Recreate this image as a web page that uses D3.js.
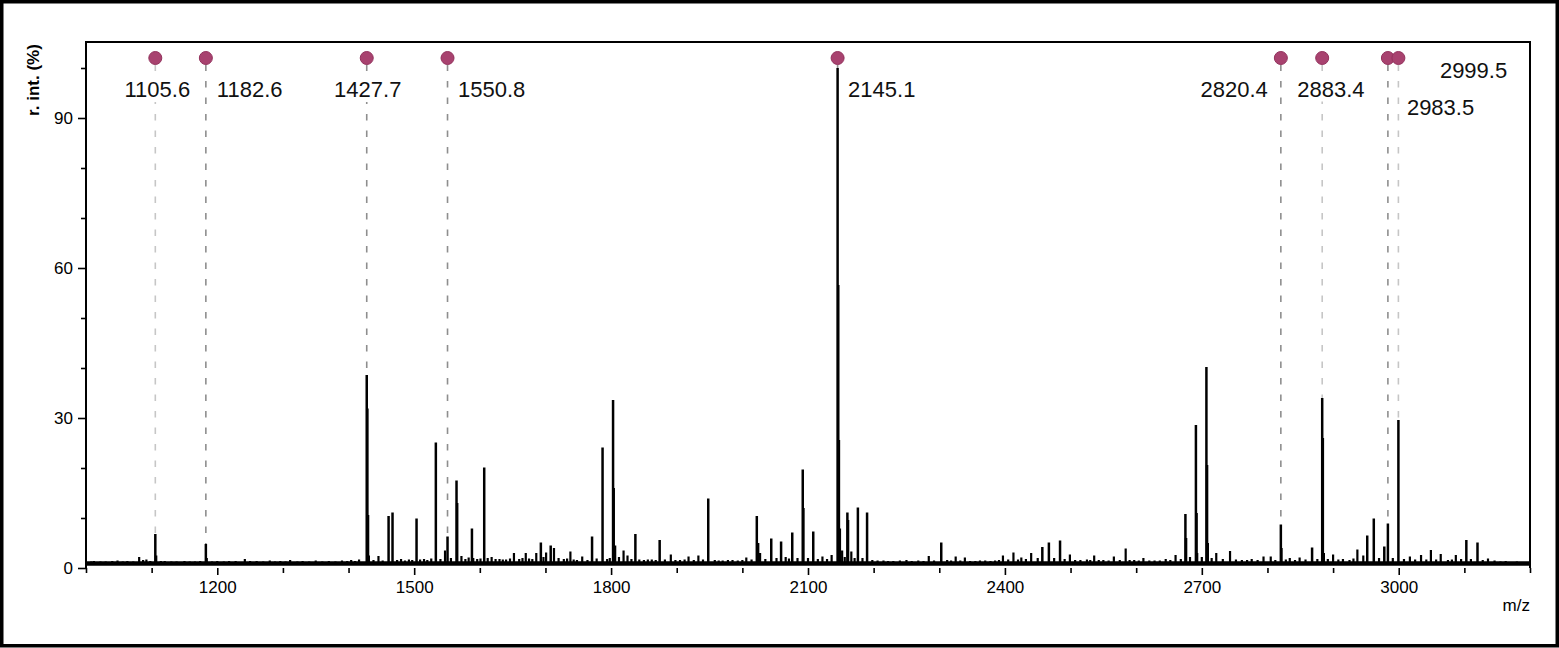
<!DOCTYPE html>
<html><head><meta charset="utf-8">
<script src="https://cdn.jsdelivr.net/npm/d3@7"></script>
<style>
html,body{margin:0;padding:0;background:#fff;}
svg{display:block;font-family:"Liberation Sans",Arial,Helvetica,sans-serif;}
</style></head><body>
<svg id="chart" width="1559" height="648"></svg>
<script>
// ---------- DATA ----------
const peakMz = [
 1008,1012,1022,1030,1040,1048,1056,1063,1072,1081,1087,1092,1098,1105.6,1107,1114,1120,1130,1138,1150,1158,1166,1174,1182.6,1184,1192,1200,1210,1218,1228,1242,1250,1260,1270,1280,1288,1296,1304,1311,1322,1330,1340,1350,1360,1370,1380,1390,1398,1404,1410,1416,
 1427.7,1428.7,1429.7,1431,1438,1445.6,1452,1461,1467,1474,1480,1486,1492,1497,1503.6,1509,1515,1520,1526,1533,1540,1547,1550.8,1556,1564.5,1565.5,1572,1578,1583,1588,1590,1596,1601,1606.7,1612,1618,1624,1630,1635,1640,1646,
 1652,1660,1665,1670,1675,1680,1686,1693,1697,1701,1708,1713,1720,1728,1733,1738,1743,1748,1756,1764,1771,1778,1787,1794,1798,1803,1804,1806,1812,1819,1825,1831,1837,1843,1850,1856,1862,1868,1874,1882,
 1891,1898,1905,1912,1918,1926,1933,1940,1948,1958,1964,1970,1978,1985,1993,2000,2006,2014,2022,2024,2027,2035,2044,2052,2059,2066,2071,2076,2084,2092,2093,2100,2108,2115,2122,2129,2136,
 2145.1,2146.1,2147.1,2148.5,2152,2156,2160,2161,2166,2171,2176,2183,2190,2198,2206,2215,2222,2230,2240,2250,2258,2268,2276,2284,2292,2303,2312,2318,2325,2332,2339,2347,2355,2362,2370,2378,2385,2391,2397,2405,2413,2420,2425,2432,
 2440,2450,2457,2467,2475,2484,2491,2499,2507,2515,2525,2530,2536,2543,2550,2558,2566,2575,2584,2590,2597,2604,2611,2620,2628,2636,2645,2652,2660,2668,2675,2676,2682,2691,2692,2693,2700,2707,2708,2709,2715,2722,2732,2743,2752,2761,2769,
 2776,2785,2794,2805,2812,2820.4,2821.5,2828,2834,2842,2849,2858,2868,2876,2883.4,2884.4,2886,2892,2900,2908,2915,2925,2931,2937,2946,2952,2962,2970,2978,2983.5,2991,2999.5,3008,3017,3025,3034,3042,3049,
 3057,3064,3075,3081,3087,3095,3103,3110,3120,3128,3136,3146,3155,3163,3170,3180,3190
];
const peakIntensity = [
 1.3,1.4,1.3,1.3,1.4,1.5,1.3,1.4,1.3,2.2,1.6,1.7,1.4,6.8,2.5,1.4,1.4,1.3,1.3,1.4,1.3,1.3,1.4,4.8,2.0,1.3,1.4,1.3,1.4,1.4,1.8,1.4,1.4,1.3,1.5,1.3,1.4,1.3,1.6,1.3,1.4,1.3,1.5,1.3,1.4,1.3,1.5,1.4,1.6,1.4,1.7,
 38.6,31.9,10.6,2.5,1.6,2.4,1.5,10.4,11.1,1.6,1.8,1.5,1.7,1.6,9.9,1.7,1.8,1.6,1.9,25.1,1.8,3.5,6.3,2.0,17.5,13,2.4,1.8,2.1,7.9,2.0,1.8,1.9,20.1,2.0,2.2,1.8,1.8,1.7,1.7,1.9,
 3.0,1.8,2.0,3.0,1.9,1.8,3.0,5.1,2.2,3.1,4.5,4.0,2.0,1.8,1.9,3.3,1.7,1.6,2.3,1.6,6.3,1.9,24.1,1.8,2.0,33.6,16,4.5,2.2,3.5,2.5,1.8,6.8,1.7,1.6,1.7,1.7,1.6,5.6,1.7,
 2.7,1.6,1.6,1.7,2.3,1.6,2.5,1.7,13.9,1.6,1.5,1.5,1.6,1.6,1.5,1.6,2.1,1.7,10.4,5,3.0,1.8,5.9,2.0,5.3,2.2,1.9,7.1,2.0,19.7,12,2.0,7.3,1.8,2.3,1.8,2.6,
 100,56.6,25.6,7.9,3.5,2.2,11.1,9.6,3.3,2.0,12.1,2.0,11.1,1.6,1.5,1.5,1.4,1.4,1.5,1.6,1.4,1.5,1.4,2.4,1.5,5.1,1.6,1.5,2.3,1.5,2.1,1.4,1.4,1.5,1.5,1.4,1.5,1.6,2.5,1.7,3.1,1.7,2.1,1.8,
 3.0,2.0,4.2,5.1,2.0,5.5,1.8,2.7,1.6,1.6,1.7,1.6,2.5,1.6,1.6,1.5,2.3,1.6,3.9,1.6,1.6,1.5,2.0,1.5,1.5,1.5,1.8,1.6,2.6,1.8,10.8,6,2.2,28.6,11,3,2.2,40.2,20.6,5,2.0,3.0,1.8,3.4,1.7,1.6,1.6,
 1.8,1.6,2.3,2.3,1.6,8.7,4,1.7,2.0,1.6,2.1,1.7,4.1,1.8,34,26,3,1.8,2.7,1.7,1.8,1.6,1.9,3.7,2.5,6.5,9.9,2.0,4.3,8.9,2.0,29.6,1.8,2.3,1.7,2.6,1.7,3.6,
 1.7,2.8,1.6,1.7,2.6,1.8,5.6,1.8,5.1,1.6,1.9,1.5,1.3,1.4,1.2,1.3,1.2
];
const baselineLevel = 0.9;

const annotMz = [1105.6,1182.6,1427.7,1550.8,2145.1,2820.4,2883.4,2983.5,2999.5];
const annotLabels = ["1105.6","1182.6","1427.7","1550.8","2145.1","2820.4","2883.4","2983.5","2999.5"];
const annotIntensity = [6.8,4.8,38.6,6.3,100,8.7,34,8.9,29.6];
const annotShade = ["light","dark","dark","dark","dark","dark","light","dark","light"];

const xDomain = [1000,3200];
const yDomain = [0,105.2];
const xTicks = d3.range(1000,3201,100);
const xTickLabels = [1200,1500,1800,2100,2400,2700,3000];
const yTicks = d3.range(0,101,10);
const yTickLabels = [0,30,60,90];
const xTitle = "m/z";
const yTitle = "r. int. (%)";

// ---------- LAYOUT ----------
const W = 1559, H = 648;
const plot = {left:86, top:42, right:1530, bottom:568};
const labelPlacement = [
 {dx:2, dy:39, anchor:"middle"},
 {dx:11, dy:39, anchor:"start"},
 {dx:1, dy:39, anchor:"middle"},
 {dx:10.5, dy:39, anchor:"start"},
 {dx:10.5, dy:39, anchor:"start"},
 {dx:-13, dy:39, anchor:"end"},
 {dx:-25, dy:38.5, anchor:"start"},
 {dx:19, dy:57, anchor:"start"},
 {dx:41.5, dy:20, anchor:"start"}
];
const dotY = plot.top + 16, dotR = 6.5;

const svg = d3.select("#chart");
svg.append("rect").attr("x",1.75).attr("y",1.75).attr("width",W-3.5).attr("height",H-4)
  .attr("fill","#fff").attr("stroke","#000").attr("stroke-width",3.5);

const x = d3.scaleLinear().domain(xDomain).range([plot.left, plot.right]);
const y = d3.scaleLinear().domain(yDomain).range([plot.bottom, plot.top]);

function styleAxis(g){ g.select(".domain").remove(); g.selectAll("line").attr("stroke","#000").attr("stroke-width",1.6);
  g.selectAll("text").attr("fill","#000").style("font-size","17px").style("font-family",'"Liberation Sans",Arial,sans-serif'); }
svg.append("g").attr("transform",`translate(0,${plot.bottom})`)
  .call(d3.axisBottom(x).tickValues(xTicks.filter(t=>!xTickLabels.includes(t))).tickSize(5).tickFormat(""))
  .call(styleAxis);
svg.append("g").attr("transform",`translate(0,${plot.bottom})`)
  .call(d3.axisBottom(x).tickValues(xTickLabels).tickSize(7).tickPadding(6).tickFormat(d3.format("d")))
  .call(styleAxis);
svg.append("g").attr("transform",`translate(${plot.left},0)`)
  .call(d3.axisLeft(y).tickValues(yTicks.filter(t=>!yTickLabels.includes(t))).tickSize(5).tickFormat(""))
  .call(styleAxis);
svg.append("g").attr("transform",`translate(${plot.left},0)`)
  .call(d3.axisLeft(y).tickValues(yTickLabels).tickSize(8).tickPadding(5).tickFormat(d3.format("d")))
  .call(styleAxis);

svg.append("text").attr("x",plot.right).attr("y",611).attr("text-anchor","end")
  .style("font-size","17px").text(xTitle);
svg.append("text").attr("transform",`translate(39,${80}) rotate(-90)`).attr("text-anchor","middle")
  .style("font-size","17px").style("font-weight","bold").text(yTitle);

const ann = annotMz.map((m,i)=>({mz:m, label:annotLabels[i], inten:annotIntensity[i], shade:annotShade[i], pl:labelPlacement[i]}));
svg.append("g").selectAll("line").data(ann).join("line")
  .attr("x1",d=>x(d.mz)).attr("x2",d=>x(d.mz))
  .attr("y1",dotY+dotR).attr("y2",d=>y(d.inten))
  .attr("stroke",d=>d.shade==="light"?"#c6c6c6":"#8e8e8e")
  .attr("stroke-width",1.6).attr("stroke-dasharray","6.5,10");

// spectrum: baseline trace + peak sticks
const peaks = peakMz.map((m,i)=>({mz:m, v:peakIntensity[i]}));
svg.append("line").attr("x1",x(xDomain[0])).attr("x2",x(xDomain[1]))
  .attr("y1",y(baselineLevel)).attr("y2",y(baselineLevel))
  .attr("stroke","#000").attr("stroke-width",4.5);
svg.append("g").selectAll("line").data(peaks).join("line")
  .attr("x1",d=>x(d.mz)).attr("x2",d=>x(d.mz))
  .attr("y1",y(baselineLevel)).attr("y2",d=>y(d.v))
  .attr("stroke","#000").attr("stroke-width",d=>d.v>4?2.5:2.2);

// frame: left, top, right (bottom is the spectrum baseline)
svg.append("path")
  .attr("d",`M${plot.left},${plot.bottom}V${plot.top}H${plot.right}V${plot.bottom}`)
  .attr("fill","none").attr("stroke","#000").attr("stroke-width",2);

const lg = svg.append("g");
ann.forEach(d=>{
  const g = lg.append("g");
  const t = g.append("text").attr("x",x(d.mz)+d.pl.dx).attr("y",dotY+d.pl.dy)
    .attr("text-anchor",d.pl.anchor).style("font-size","22px").attr("fill","#111").text(d.label);
  const bb = t.node().getBBox();
  g.insert("rect","text").attr("x",bb.x-1).attr("y",bb.y).attr("width",bb.width+2).attr("height",bb.height)
    .attr("fill","#fff");
});

svg.append("g").selectAll("circle").data(ann).join("circle")
  .attr("cx",d=>x(d.mz)).attr("cy",dotY).attr("r",dotR)
  .attr("fill","#a8426f").attr("stroke","#93325d").attr("stroke-width",1);
</script>
</body></html>
